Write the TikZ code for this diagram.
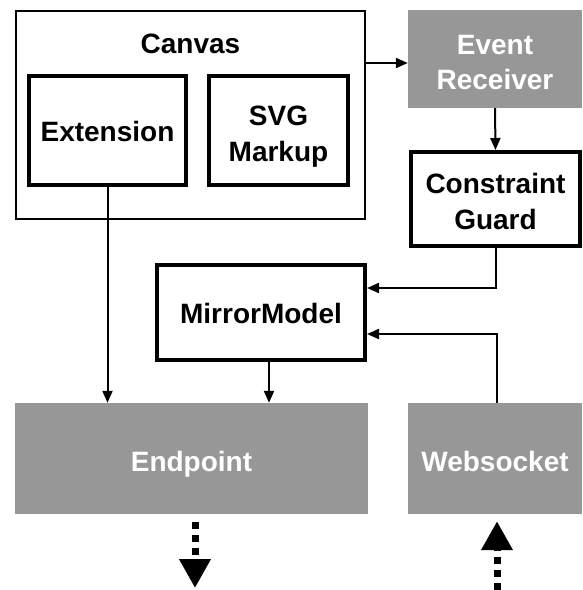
\documentclass[tikz,border=0pt]{standalone}
\usepackage{fontspec}
\setmainfont{Liberation Sans}
\usepackage{tikz}
\usetikzlibrary{arrows.meta, positioning}
\definecolor{boxgray}{RGB}{151,151,151}
\tikzstyle{outerbox} = [rectangle, draw=black, line width=1.8pt, inner sep=0pt, minimum width=349pt, minimum height=208pt]
\tikzstyle{part} = [rectangle, draw=black, line width=4pt, inner sep=0pt, align=center, font=\fontsize{28}{36}\selectfont\bfseries]
\tikzstyle{service} = [rectangle, fill=boxgray, text=white, inner sep=0pt, align=center, font=\fontsize{28}{35}\selectfont\bfseries]
\tikzstyle{oneline} = [text height=26pt, text depth=0pt]
\tikzstyle{arrow} = [line width=2pt, -{Triangle[width=10pt,length=12pt]}]
\tikzstyle{flow} = [line width=7pt, dash pattern=on 7pt off 6pt, -{Triangle[width=30pt,length=29pt]}]

\begin{document}
\begin{tikzpicture}[x=1pt, y=-1pt]
    \useasboundingbox (0,0) rectangle (582,590);

    \node (canvas) [outerbox] at (190.5,115) {};
    \node (canvaslabel) [font=\fontsize{28}{35}\selectfont\bfseries] at (190.5,44) {Canvas};
    \node (ext) [part, minimum width=157pt, minimum height=109pt] at (107.5,130.5) {\rule{0pt}{23pt}Extension};
    \node (svg) [part, minimum width=139pt, minimum height=109pt] at (278.5,130.5) {\rule{0pt}{31pt}SVG\\Markup};

    \node (receiver) [service, minimum width=174pt, minimum height=98pt] at (495,59) {\rule{0pt}{27pt}Event\\Receiver};
    \node (guard) [part, minimum width=169pt, minimum height=94pt] at (495.5,199) {\rule{0pt}{25pt}Constraint\\Guard};
    \node (mirror) [part, minimum width=208pt, minimum height=95pt] at (261,312.5) {\rule{0pt}{23pt}MirrorModel};

    \node (endp) [service, oneline, minimum width=353pt, minimum height=111pt] at (191.5,458.5) {Endpoint};
    \node (sock) [service, oneline, minimum width=174pt, minimum height=111pt] at (495,458.5) {Websocket};

    \coordinate (out) at (195,588);
    \coordinate (in) at (497,590);

    \draw [arrow] (canvas.east |- 0,63) -- (receiver.west |- 0,63);
    \draw [arrow] (receiver.south) -- (guard.north);
    \draw [arrow] (guard.south) |- ([yshift=24.5pt]mirror.east);
    \draw [arrow] ([xshift=2pt]sock.north) |- ([yshift=-21.5pt]mirror.east);
    \draw [arrow] (ext.south) -- (ext.south |- endp.north);
    \draw [arrow] ([xshift=8pt]mirror.south) -- ([xshift=8pt]mirror.south |- endp.north);

    \draw [flow] ([xshift=3.5pt,yshift=-8pt]endp.south) -- (out); % to the client
    \draw [flow] (in) -- ([xshift=2pt,yshift=-7pt]sock.south);

\end{tikzpicture}
\end{document}
